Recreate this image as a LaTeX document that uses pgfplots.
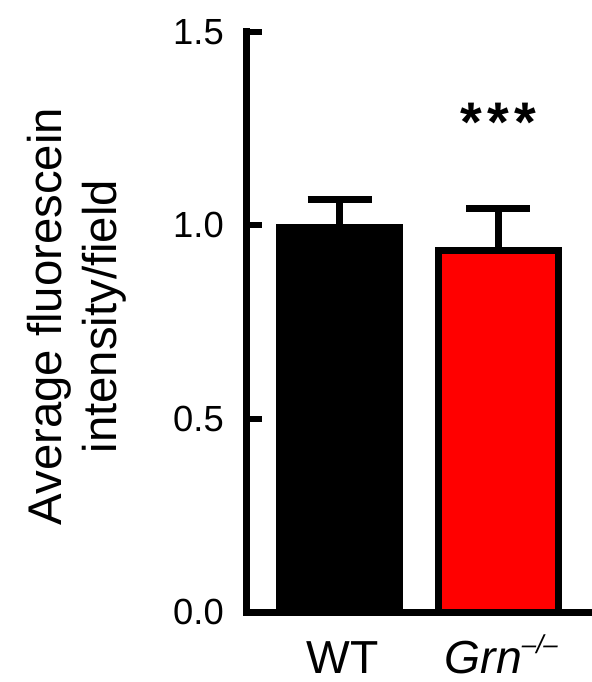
\documentclass[border=0pt]{standalone}
\usepackage{fontspec}
\setmainfont{Liberation Sans}
\usepackage{pgfplots}
\pgfplotsset{compat=1.18}
\definecolor{barred}{RGB}{255,0,0}
\begin{document}
\begin{tikzpicture}
\begin{axis}[
  at={(0,0)}, anchor=south west,
  scale only axis, width=345.5bp, height=580.3bp,
  xmin=0.413, xmax=2.590, ymin=0, ymax=1.5,
  clip=false,
  axis x line*=bottom, axis y line*=left,
  axis line style={line width=7bp, line cap=rect, black},
  ytick={0,0.5,1,1.5},
  tick align=inside,
  major tick length=15.5bp,
  ytick style={line width=6bp, black},
  xtick={1,2},
  xticklabels={WT,{\textit{Grn}\raisebox{0.42em}{\fontsize{26}{26}\selectfont\textit{–/–}}}},
  xtick style={draw=none},
  xticklabel style={font=\fontsize{46.5}{50}\selectfont, anchor=base, yshift=-61bp, xshift=3bp},
  yticklabel style={font=\fontsize{36.5}{40}\selectfont, anchor=east, inner sep=0pt, xshift=-22.5bp},
  yticklabel style={/pgf/number format/.cd, fixed, fixed zerofill, precision=1, assume math mode=true},
  ylabel={Average fluorescein\\intensity/field},
  ylabel style={align=center, font=\fontsize{47.5}{55.5}\selectfont, at={(axis description cs:-0.491,0.509)}, anchor=center, rotate=0},
]
\addplot[ybar, bar width=0.76, bar shift=0pt, fill=black, draw=black, line width=7bp,
  error bars/.cd, y dir=plus, y explicit, error mark=|,
  error bar style={line width=7bp, black},
  error mark options={line width=7bp, mark size=32bp, black}]
  coordinates {(1,0.995) +- (0,0.071)};
\addplot[ybar, bar width=0.76, bar shift=0pt, fill=barred, draw=black, line width=7bp,
  error bars/.cd, y dir=plus, y explicit, error mark=|,
  error bar style={line width=7bp, black},
  error mark options={line width=7bp, mark size=32bp, black}]
  coordinates {(2,0.934) +- (0,0.109)};
\node[anchor=north, inner sep=0pt, font=\bfseries\fontsize{56}{56}\selectfont] at (axis cs:2,1.315) {*\hspace{5bp}*\hspace{5bp}*};
\end{axis}
\pgfresetboundingbox
\path (-246.5bp,-70bp) rectangle (345.5bp,612bp);
\end{tikzpicture}
\end{document}
